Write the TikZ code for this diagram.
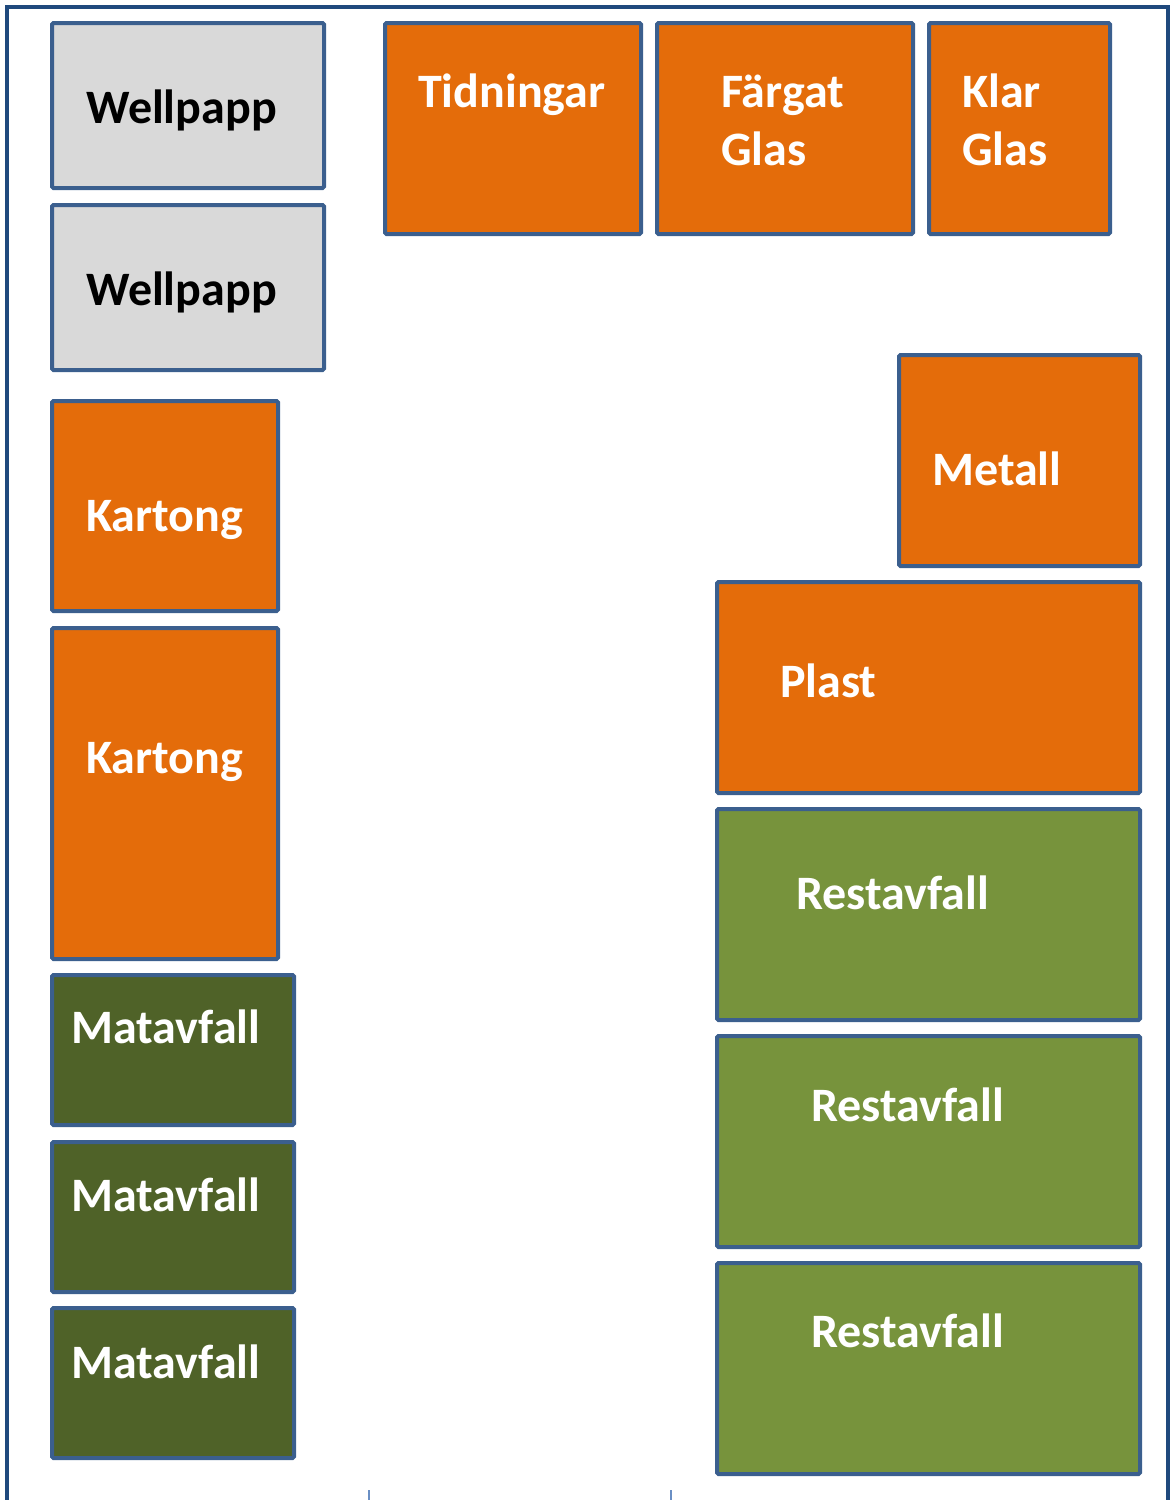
\documentclass[tikz,border=0pt]{standalone}
\usepackage{fontspec}
\setmainfont{Carlito}
\definecolor{frameblue}{HTML}{1F497D}
\definecolor{boxblue}{HTML}{3B5F8E}
\definecolor{tickblue}{HTML}{6A8FC4}
\definecolor{orangefill}{HTML}{E46C0A}
\definecolor{grayfill}{HTML}{D9D9D9}
\definecolor{darkgreen}{HTML}{4F6228}
\definecolor{lightgreen}{HTML}{77933C}
\newcommand\bx[6]{\node[boxst, fill=#6, minimum width={#4-#2-4}, minimum height={#5-#3-4}] (#1) at ({(#2+#4)/2},{(#3+#5)/2}) {};}
\begin{document}
\begin{tikzpicture}[x=1pt,y=-1pt,
  boxst/.style={draw=boxblue, line width=4pt, rounded corners=1.5pt, inner sep=0pt},
  lbl/.style={anchor=base west, inner sep=0pt, font=\fontsize{48}{58}\selectfont\bfseries, text=white},
  dlbl/.style={lbl, text=black},
  framest/.style={draw=frameblue, line width=4pt},
  tickst/.style={draw=tickblue, line width=1.5pt}]
\useasboundingbox (0,0) rectangle (1172,1500);
\coordinate (f1) at (7,1502);
\coordinate (f2) at (7,7);
\coordinate (f3) at (1168,7);
\coordinate (f4) at (1168,1502);
\draw[framest] (f1) -- (f2) -- (f3) -- (f4);
\coordinate (k1a) at (369,1490); \coordinate (k1b) at (369,1500);
\coordinate (k2a) at (671,1490); \coordinate (k2b) at (671,1500);
\draw[tickst] (k1a) -- (k1b);
\draw[tickst] (k2a) -- (k2b);
% boxes
\bx{w1}{50}{21}{326}{190}{grayfill}
\bx{w2}{50}{203}{326}{372}{grayfill}
\bx{k1}{50}{399}{280}{613}{orangefill}
\bx{k2}{50}{626}{280}{961}{orangefill}
\bx{m1}{50}{973}{296}{1127}{darkgreen}
\bx{m2}{50}{1140}{296}{1294}{darkgreen}
\bx{m3}{50}{1306}{296}{1460}{darkgreen}
\bx{td}{383}{21}{643}{236}{orangefill}
\bx{fg}{655}{21}{915}{236}{orangefill}
\bx{kg}{927}{21}{1112}{236}{orangefill}
\bx{me}{897}{353}{1142}{568}{orangefill}
\bx{pl}{715}{580}{1142}{795}{orangefill}
\bx{r1}{715}{807}{1142}{1022}{lightgreen}
\bx{r2}{715}{1034}{1142}{1249}{lightgreen}
\bx{r3}{715}{1261}{1142}{1476}{lightgreen}
% labels
\node[dlbl] (tw1) at (86,123) {Wellpapp};
\node[dlbl] (tw2) at (86,305) {Wellpapp};
\node[lbl] (tk1) at (86,531) {Kartong};
\node[lbl] (tk2) at (86,773) {Kartong};
\node[lbl] (tm1) at (71,1043) {Matavfall};
\node[lbl] (tm2) at (71,1211) {Matavfall};
\node[lbl] (tm3) at (71,1378) {Matavfall};
\node[lbl] (ttd) at (418,107) {Tidningar};
\node[lbl] (tfg1) at (721,107) {Färgat};
\node[lbl] (tfg2) at (721,165) {Glas};
\node[lbl] (tkg1) at (962,107) {Klar};
\node[lbl] (tkg2) at (962,165) {Glas};
\node[lbl] (tme) at (932,485) {Metall};
\node[lbl] (tpl) at (780,697) {Plast};
\node[lbl] (tr1) at (796,909) {Restavfall};
\node[lbl] (tr2) at (811,1121) {Restavfall};
\node[lbl] (tr3) at (811,1347) {Restavfall};
\end{tikzpicture}
\end{document}
